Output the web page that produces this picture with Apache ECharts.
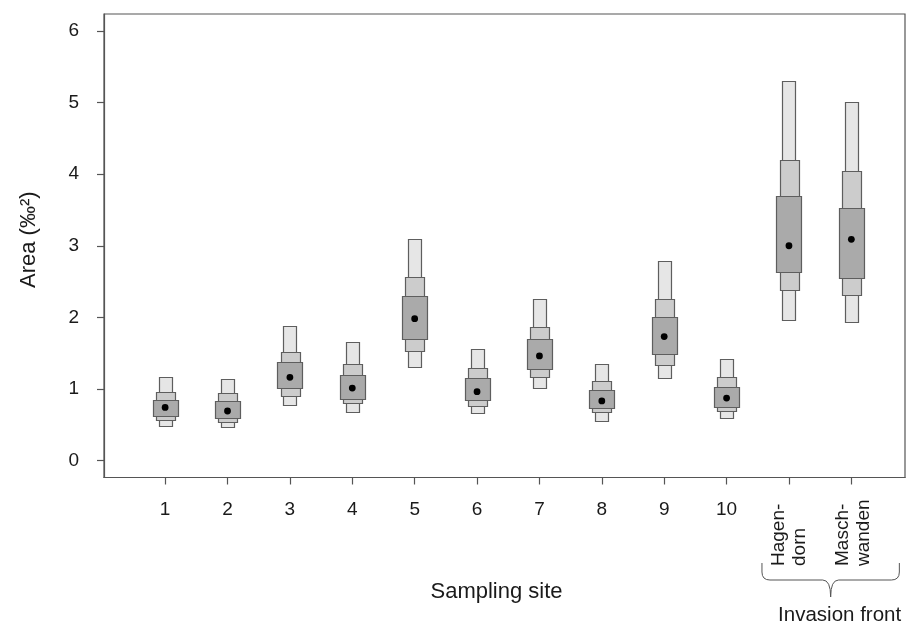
<!DOCTYPE html>
<html>
<head>
<meta charset="utf-8">
<script src="https://cdn.jsdelivr.net/npm/echarts@6/dist/echarts.min.js"></script>
<style>html,body{margin:0;padding:0;background:#fff}#c{width:906px;height:627px}</style>
</head>
<body>
<div id="c"></div>
<script>
// ---- data ----
const sitePositions = [1, 2, 3, 4, 5, 6, 7, 8, 9, 10, 11, 12];
const siteLabels = ['1', '2', '3', '4', '5', '6', '7', '8', '9', '10', 'Hagen-\ndorn', 'Masch-\nwanden'];
const lightLow  = [0.48, 0.47, 0.77, 0.68, 1.31, 0.66, 1.01, 0.55, 1.14, 0.59, 1.97, 1.93];
const midLow    = [0.56, 0.54, 0.91, 0.80, 1.53, 0.76, 1.17, 0.67, 1.34, 0.68, 2.38, 2.30];
const darkLow   = [0.62, 0.59, 1.01, 0.87, 1.70, 0.84, 1.27, 0.73, 1.48, 0.75, 2.64, 2.55];
const medians   = [0.74, 0.69, 1.16, 1.01, 1.98, 0.96, 1.46, 0.83, 1.73, 0.87, 3.00, 3.09];
const darkHigh  = [0.84, 0.83, 1.37, 1.20, 2.30, 1.15, 1.69, 0.98, 2.00, 1.03, 3.70, 3.53];
const midHigh   = [0.95, 0.94, 1.52, 1.35, 2.56, 1.29, 1.87, 1.11, 2.26, 1.16, 4.20, 4.04];
const lightHigh = [1.16, 1.14, 1.88, 1.66, 3.10, 1.56, 2.26, 1.35, 2.78, 1.42, 5.31, 5.01];
const yTicks = [0, 1, 2, 3, 4, 5, 6];
const groupLabel = 'Invasion front';

const rows = sitePositions.map((x, i) => [x, lightLow[i], midLow[i], darkLow[i], medians[i], darkHigh[i], midHigh[i], lightHigh[i]]);

const FONT = '"Liberation Sans", Arial, Helvetica, sans-serif';
const AXIS_COLOR = '#555';
const TEXT_COLOR = '#1a1a1a';

function renderItem(params, api) {
  const x = api.value(0);
  const levels = [
    [1, 7, '#e6e6e6', 0.21],
    [2, 6, '#cccccc', 0.30],
    [3, 5, '#aaaaaa', 0.40]
  ];
  const children = levels.map(([lo, hi, fill, w]) => {
    const p1 = api.coord([x - w / 2, api.value(hi)]);
    const p2 = api.coord([x + w / 2, api.value(lo)]);
    return {
      type: 'rect',
      shape: { x: Math.round(p1[0]) + 0.5, y: Math.round(p1[1]) + 0.5, width: Math.round(p2[0] - p1[0]), height: Math.round(p2[1] - p1[1]) },
      style: { fill: fill, stroke: '#5e5e5e', lineWidth: 1.2 }
    };
  });
  const c = api.coord([x, api.value(4)]);
  children.push({ type: 'circle', shape: { cx: c[0], cy: c[1], r: 3.4 }, style: { fill: '#000' } });
  return { type: 'group', children: children };
}

const chart = echarts.init(document.getElementById('c'), null, { renderer: 'canvas' });
chart.setOption({
  animation: false,
  backgroundColor: '#fff',
  grid: { left: 104, right: 1, top: 14, bottom: 149.5, show: true, borderColor: AXIS_COLOR, borderWidth: 1.2, backgroundColor: 'transparent' },
  xAxis: {
    type: 'value', min: 0.02, max: 12.86,
    name: 'Sampling site', nameLocation: 'middle', nameGap: 103,
    nameTextStyle: { fontFamily: FONT, fontSize: 22, color: TEXT_COLOR, padding: [0, 16, 0, 0] },
    axisLine: { show: true, onZero: false, lineStyle: { color: AXIS_COLOR, width: 1.2 } },
    axisTick: { show: true, length: 7, customValues: sitePositions, lineStyle: { color: AXIS_COLOR, width: 1.2 } },
    axisLabel: {
      customValues: sitePositions.slice(0, 10), margin: 23,
      formatter: v => siteLabels[sitePositions.indexOf(v)] || '',
      fontFamily: FONT, fontSize: 19, color: TEXT_COLOR
    },
    splitLine: { show: false }
  },
  yAxis: {
    type: 'value', min: -0.24, max: 6.24,
    name: 'Area (‰²)', nameLocation: 'middle', nameGap: 64, nameRotate: 90,
    nameTextStyle: { fontFamily: FONT, fontSize: 22, color: TEXT_COLOR, padding: [0, 0, 0, 12] },
    axisLine: { show: true, onZero: false, lineStyle: { color: AXIS_COLOR, width: 1.2 } },
    axisTick: { show: true, length: 7, customValues: yTicks, lineStyle: { color: AXIS_COLOR, width: 1.2 } },
    axisLabel: { customValues: yTicks, margin: 25, fontFamily: FONT, fontSize: 19, color: TEXT_COLOR },
    splitLine: { show: false }
  },
  series: [{
    type: 'custom',
    renderItem: renderItem,
    encode: { x: 0, y: [1, 2, 3, 4, 5, 6, 7] },
    data: rows,
    clip: false
  }]
});

// rotated labels for the last two sites and the brace underneath
const px11 = chart.convertToPixel({ xAxisIndex: 0 }, 11);
const px12 = chart.convertToPixel({ xAxisIndex: 0 }, 12);
const yBase = 566;
const L = px11 - 27, R = px12 + 48, M = (L + R) / 2;
const T = 563, H = 580, P = 597, r = 8;
const braceStyle = { stroke: '#555', lineWidth: 1, fill: null };
const seg = (x1, y1, x2, y2) => ({ type: 'line', shape: { x1, y1, x2, y2 }, style: braceStyle });
const crv = (x1, y1, cx, cy, x2, y2) => ({ type: 'bezierCurve', shape: { x1, y1, cpx1: cx, cpy1: cy, x2, y2 }, style: braceStyle });
chart.setOption({
  graphic: [
    { type: 'text', x: px11 + 0.5, y: yBase, rotation: Math.PI / 2,
      style: { text: siteLabels[10], font: '19px ' + FONT, fill: TEXT_COLOR, align: 'left', verticalAlign: 'middle', lineHeight: 21 } },
    { type: 'text', x: px12 + 2, y: yBase, rotation: Math.PI / 2,
      style: { text: siteLabels[11], font: '19px ' + FONT, fill: TEXT_COLOR, align: 'left', verticalAlign: 'middle', lineHeight: 21 } },
    seg(L, T, L, H - r),
    crv(L, H - r, L, H, L + r, H),
    seg(L + r, H, M - r, H),
    crv(M - r, H, M, H, M, P),
    crv(M, P, M, H, M + r, H),
    seg(M + r, H, R - r, H),
    crv(R - r, H, R, H, R, H - r),
    seg(R, H - r, R, T),
    { type: 'text', x: M + 9, y: 615,
      style: { text: groupLabel, font: '20.5px ' + FONT, fill: TEXT_COLOR, align: 'center', verticalAlign: 'middle' } }
  ]
});
</script>
</body>
</html>
